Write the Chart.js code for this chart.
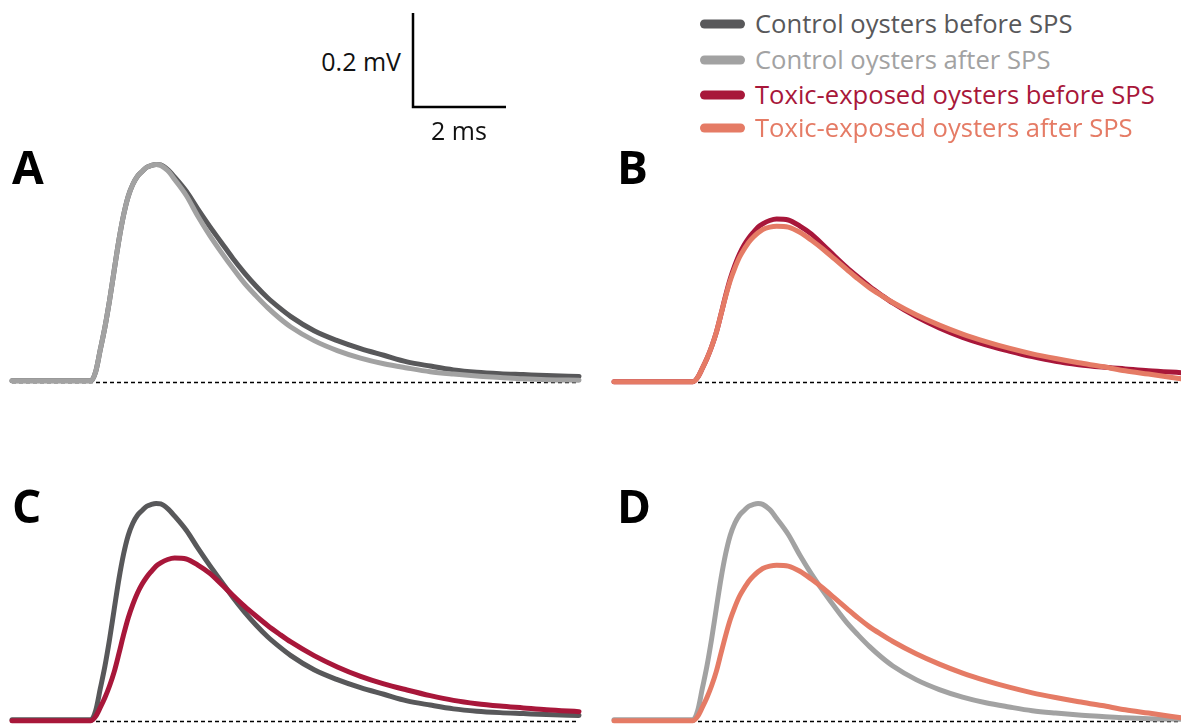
<!DOCTYPE html>
<html>
<head>
<meta charset="utf-8">
<script src="https://cdn.jsdelivr.net/npm/chart.js@4.4.1/dist/chart.umd.min.js"></script>
<style>
  html, body { margin: 0; padding: 0; background: #fff; width: 1181px; height: 727px; overflow: hidden; }
  body { position: relative; font-family: "Open Sans", sans-serif; }
  canvas { position: absolute; }
  .panel-label { position: absolute; font-weight: 700; font-size: 46px; line-height: 46px; color: #000; }
  .txt { position: absolute; white-space: nowrap; line-height: 1; transform: translateY(-50%); }
  .swatch { position: absolute; width: 45px; height: 9px; border-radius: 5px; transform: translateY(-50%); }
</style>
</head>
<body>
<script>
// time axis (ms) shared by all traces
const timeMs = [0, 1.7, 1.8, 1.9, 2.0, 2.1, 2.2, 2.3, 2.4, 2.5, 2.6, 2.7, 2.8, 2.9, 3.0, 3.1, 3.2, 3.35,
  3.5, 3.75, 4.0, 4.25, 4.5, 4.75, 5.0, 5.25, 5.5, 5.75, 6.0,
  6.5, 7.0, 7.5, 8.0, 8.5, 9.0, 9.5, 10.0, 10.5, 11.0, 11.5, 12.2];

// mean waveforms (mV)
const controlBefore = [0.004, 0.004, 0.023, 0.070, 0.118, 0.175, 0.239, 0.302, 0.355, 0.395, 0.421, 0.438, 0.448, 0.457, 0.461, 0.463, 0.462, 0.452,
  0.436, 0.406, 0.368, 0.332, 0.298, 0.264, 0.233, 0.205, 0.180, 0.159, 0.140,
  0.110, 0.089, 0.072, 0.058, 0.044, 0.035, 0.027, 0.022, 0.019, 0.017, 0.015, 0.013];
const controlAfter = [0.004, 0.004, 0.023, 0.070, 0.118, 0.175, 0.239, 0.302, 0.355, 0.395, 0.421, 0.438, 0.448, 0.457, 0.461, 0.463, 0.461, 0.450,
  0.431, 0.397, 0.353, 0.313, 0.277, 0.243, 0.211, 0.184, 0.159, 0.137, 0.118,
  0.089, 0.068, 0.052, 0.040, 0.031, 0.023, 0.018, 0.014, 0.011, 0.008, 0.006, 0.005];
const toxicBefore = [0.002, 0.002, 0.011, 0.030, 0.051, 0.076, 0.106, 0.144, 0.184, 0.220, 0.249, 0.273, 0.292, 0.307, 0.319, 0.330, 0.337, 0.344,
  0.347, 0.345, 0.332, 0.315, 0.292, 0.268, 0.245, 0.224, 0.204, 0.186, 0.169,
  0.140, 0.116, 0.096, 0.080, 0.067, 0.055, 0.045, 0.038, 0.033, 0.029, 0.025, 0.021];
const toxicAfter = [0.002, 0.002, 0.011, 0.030, 0.051, 0.076, 0.106, 0.144, 0.182, 0.216, 0.243, 0.266, 0.283, 0.298, 0.309, 0.318, 0.325, 0.330,
  0.332, 0.330, 0.319, 0.302, 0.283, 0.262, 0.241, 0.220, 0.201, 0.185, 0.170,
  0.144, 0.122, 0.103, 0.087, 0.073, 0.061, 0.051, 0.042, 0.034, 0.025, 0.018, 0.008];

const seriesNames = ['Control oysters before SPS', 'Control oysters after SPS',
  'Toxic-exposed oysters before SPS', 'Toxic-exposed oysters after SPS'];
const seriesColors = ['#58585a', '#a2a2a2', '#a8173a', '#e57b65'];

// scale bar: 2 ms by 0.2 mV
const scaleBarTime = [0, 0, 2];
const scaleBarVolt = [0.2, 0, 0];
const scaleBarLabels = ['0.2 mV', '2 ms'];

const panelLetters = ['A', 'B', 'C', 'D'];

const PX_PER_MS = 46.5;
const PX_PER_MV = 473;
const T_MAX = 12.2;
const V_MIN = -0.02;
const V_MAX = 0.5;
const PAD = 8;

function toPoints(xs, ys) {
  return xs.map((x, i) => ({ x: x, y: ys[i] }));
}

function addCanvas(left, top, w, h) {
  const c = document.createElement('canvas');
  c.width = w;
  c.height = h;
  c.style.left = left + 'px';
  c.style.top = top + 'px';
  document.body.appendChild(c);
  return c.getContext('2d');
}

function trace(values, color) {
  return {
    data: toPoints(timeMs, values),
    borderColor: color,
    borderWidth: 5,
    borderCapStyle: 'round',
    borderJoinStyle: 'round',
    pointRadius: 0,
    cubicInterpolationMode: 'monotone',
    clip: false
  };
}

function makePanel(x0, zeroY, traces) {
  const w = T_MAX * PX_PER_MS;
  const h = (V_MAX - V_MIN) * PX_PER_MV;
  const ctx = addCanvas(x0 - PAD, zeroY - V_MAX * PX_PER_MV - PAD, w + 2 * PAD, h + 2 * PAD);
  const datasets = traces.map(t => trace(t[0], t[1]));
  // dashed zero line, drawn underneath
  datasets.push({
    data: [{ x: 0, y: 0 }, { x: T_MAX, y: 0 }],
    borderColor: '#000',
    borderWidth: 1.5,
    borderDash: [4, 3],
    pointRadius: 0,
    clip: false
  });
  new Chart(ctx, {
    type: 'line',
    data: { datasets: datasets },
    options: {
      responsive: false,
      animation: false,
      layout: { padding: PAD },
      plugins: { legend: { display: false }, tooltip: { enabled: false } },
      scales: {
        x: { type: 'linear', min: 0, max: T_MAX, display: false },
        y: { min: V_MIN, max: V_MAX, display: false }
      }
    }
  });
}

// first trace in each list is drawn on top
makePanel(12, 383, [[controlAfter, seriesColors[1]], [controlBefore, seriesColors[0]]]);
makePanel(613.6, 383, [[toxicAfter, seriesColors[3]], [toxicBefore, seriesColors[2]]]);
makePanel(12, 722, [[toxicBefore, seriesColors[2]], [controlBefore, seriesColors[0]]]);
makePanel(613.6, 722, [[toxicAfter, seriesColors[3]], [controlAfter, seriesColors[1]]]);

// scale bar chart
(function () {
  const w = 2 * PX_PER_MS, h = 0.2 * PX_PER_MV;
  const ox = 412.7, oy = 107.3;
  const ctx = addCanvas(ox - PAD, oy - h - PAD, w + 2 * PAD, h + 2 * PAD);
  new Chart(ctx, {
    type: 'line',
    data: {
      datasets: [{
        data: toPoints(scaleBarTime, scaleBarVolt),
        borderColor: '#000',
        borderWidth: 2.5,
        borderJoinStyle: 'miter',
        pointRadius: 0,
        tension: 0,
        clip: false
      }]
    },
    options: {
      responsive: false,
      animation: false,
      layout: { padding: PAD },
      plugins: { legend: { display: false }, tooltip: { enabled: false } },
      scales: {
        x: { type: 'linear', min: 0, max: 2, display: false },
        y: { min: 0, max: 0.2, display: false }
      }
    }
  });
})();

function addText(text, left, centerY, size, color, align) {
  const d = document.createElement('div');
  d.className = 'txt';
  d.textContent = text;
  d.style.fontSize = size + 'px';
  d.style.color = color;
  d.style.top = centerY + 'px';
  if (align === 'right') {
    d.style.right = (1181 - left) + 'px';
  } else if (align === 'center') {
    d.style.left = left + 'px';
    d.style.transform = 'translate(-50%, -50%)';
  } else {
    d.style.left = left + 'px';
  }
  document.body.appendChild(d);
}

addText(scaleBarLabels[0], 401, 61, 25, '#111', 'right');
addText(scaleBarLabels[1], 459, 130, 25, '#111', 'center');

// legend
const legendRows = [24, 60, 95, 128];
seriesNames.forEach((name, i) => {
  const s = document.createElement('div');
  s.className = 'swatch';
  s.style.left = '700px';
  s.style.top = legendRows[i] + 'px';
  s.style.background = seriesColors[i];
  document.body.appendChild(s);
  addText(name, 755, legendRows[i], 25.6, seriesColors[i], 'left');
});

// panel letters
const letterPos = [[12, 143], [617, 143], [12, 482], [617, 482]];
panelLetters.forEach((l, i) => {
  const d = document.createElement('div');
  d.className = 'panel-label';
  d.textContent = l;
  d.style.left = letterPos[i][0] + 'px';
  d.style.top = letterPos[i][1] + 'px';
  document.body.appendChild(d);
});
</script>
</body>
</html>
